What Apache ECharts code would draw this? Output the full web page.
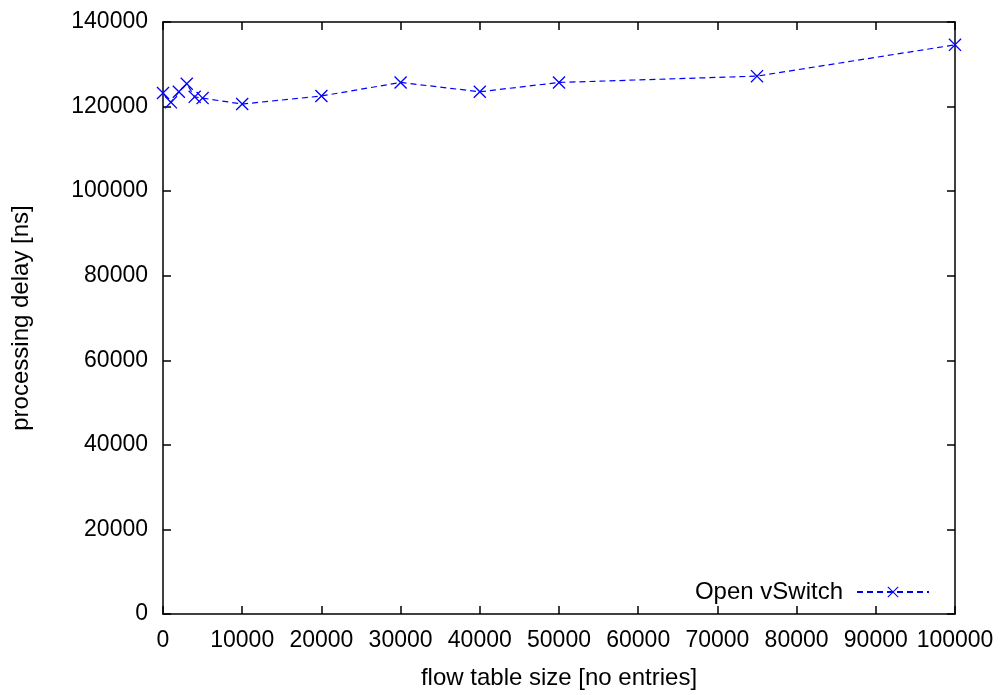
<!DOCTYPE html>
<html>
<head>
<meta charset="utf-8">
<script src="https://cdn.jsdelivr.net/npm/echarts@6/dist/echarts.min.js"></script>
<style>
  html, body { margin: 0; padding: 0; background: #fff; }
  #main { width: 1006px; height: 695px; }
</style>
</head>
<body>
<div id="main"></div>
<script>
// flow table size (no entries) and processing delay (ns)
var tableSizes = [0, 1000, 2000, 3000, 4000, 5000, 10000, 20000, 30000, 40000, 50000, 75000, 100000];
var delays = [123200, 121000, 123500, 125400, 122300, 122000, 120600, 122500, 125700, 123500, 125700, 127200, 134600];
var seriesName = 'Open vSwitch';

var font = 'Liberation Sans, Helvetica, Arial, sans-serif';
var crossPath = 'path://M0,1L1,0L7,6L13,0L14,1L8,7L14,13L13,14L7,8L1,14L0,13L6,7Z';

var points = tableSizes.map(function (x, i) { return [x, delays[i]]; });

var chart = echarts.init(document.getElementById('main'));

var axisLine = { show: true, onZero: false, lineStyle: { color: '#000', width: 1.5 } };
var tickIn = { show: true, inside: true, length: 8, lineStyle: { color: '#000', width: 1.5 } };
var plain = function (v) { return String(v); };

var option = {
  animation: false,
  backgroundColor: '#fff',
  grid: { left: 163, right: 51, top: 22, bottom: 80 },
  legend: {
    data: [seriesName],
    right: 76,
    top: 580,
    padding: 0,
    align: 'right',
    itemWidth: 72,
    itemHeight: 14,
    textStyle: { fontFamily: font, fontSize: 24, color: '#000', padding: [0, 9, 0, 0] }
  },
  xAxis: [{
    type: 'value',
    min: 0, max: 100000, interval: 10000,
    name: 'flow table size [no entries]',
    nameLocation: 'middle',
    nameGap: 52,
    nameTextStyle: { fontFamily: font, fontSize: 24, color: '#000' },
    axisLine: axisLine,
    axisTick: tickIn,
    splitLine: { show: false },
    axisLabel: { fontFamily: font, fontSize: 23, color: '#000', margin: 15, formatter: plain }
  }, {
    type: 'value',
    position: 'top',
    min: 0, max: 100000, interval: 10000,
    axisLine: axisLine,
    axisTick: tickIn,
    splitLine: { show: false },
    axisLabel: { show: false }
  }],
  yAxis: [{
    type: 'value',
    min: 0, max: 140000, interval: 20000,
    name: 'processing delay [ns]',
    nameLocation: 'middle',
    nameGap: 130,
    nameTextStyle: { fontFamily: font, fontSize: 24, color: '#000' },
    axisLine: axisLine,
    axisTick: tickIn,
    splitLine: { show: false },
    axisLabel: { fontFamily: font, fontSize: 23, color: '#000', margin: 15, formatter: plain }
  }, {
    type: 'value',
    position: 'right',
    min: 0, max: 140000, interval: 20000,
    axisLine: axisLine,
    axisTick: tickIn,
    splitLine: { show: false },
    axisLabel: { show: false }
  }],
  series: [{
    name: seriesName,
    type: 'line',
    xAxisIndex: 0,
    yAxisIndex: 0,
    data: points,
    symbol: crossPath,
    symbolSize: 13,
    itemStyle: { color: '#0000ff' },
    lineStyle: { color: '#0000ff', width: 1.2, type: [6, 4] }
  }]
};

chart.setOption(option);
</script>
</body>
</html>
